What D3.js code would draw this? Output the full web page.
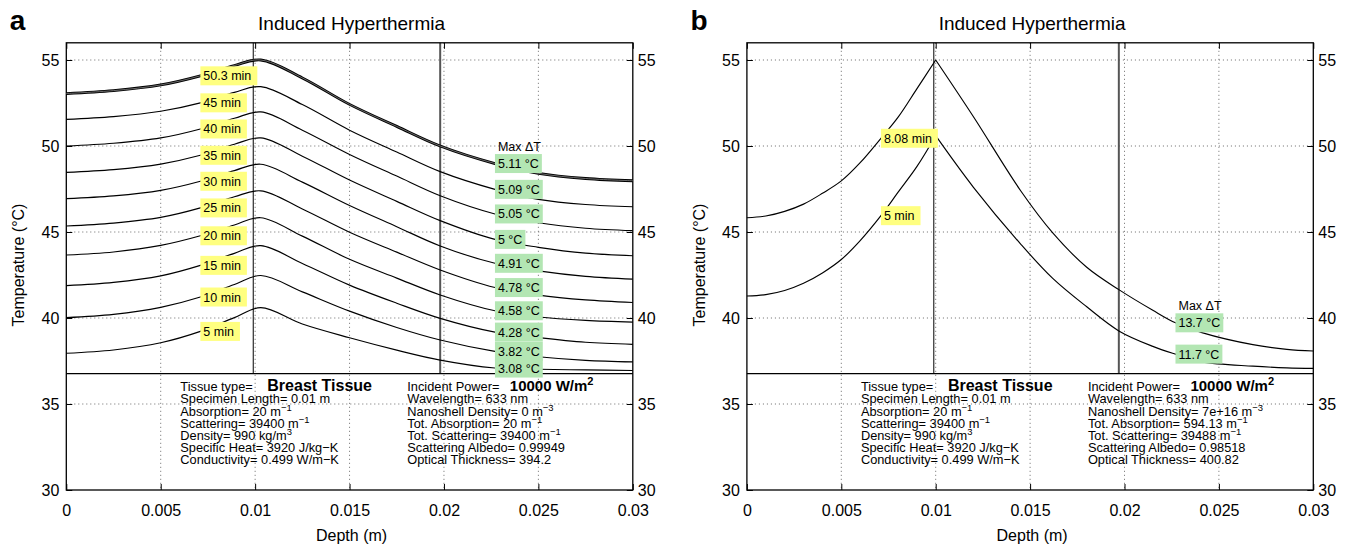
<!DOCTYPE html>
<html>
<head>
<meta charset="utf-8">
<script src="https://cdn.jsdelivr.net/npm/d3@7"></script>
<style>
  body { margin: 0; background: #fff; }
  svg text { font-family: "Liberation Sans", Arial, Helvetica, sans-serif; fill: #000; }
</style>
</head>
<body>
<svg id="fig" width="1354" height="545"></svg>
<script>
// ---- axis ticks ----
const xTicks = [0, 0.005, 0.01, 0.015, 0.02, 0.025, 0.03];
const xTickLabels = ["0", "0.005", "0.01", "0.015", "0.02", "0.025", "0.03"];
const yTicks = [30, 35, 40, 45, 50, 55];
const yTickLabels = ["30", "35", "40", "45", "50", "55"];

// ---- panel a: temperature profiles (°C) along depth (m) ----
const depthA = [0, 0.0025, 0.005, 0.0071, 0.0089, 0.0103, 0.0125, 0.015, 0.0175, 0.0198, 0.0227, 0.025, 0.0275, 0.03];
const tempA_50_3 = [53.05, 53.22, 53.55, 54.08, 54.68, 55.00, 53.96, 52.42, 51.14, 50.00, 48.98, 48.41, 48.11, 47.98];
const tempA_45   = [51.55, 51.71, 52.02, 52.51, 53.12, 53.45, 52.41, 50.92, 49.65, 48.51, 47.48, 46.90, 46.60, 46.47];
const tempA_40   = [50.00, 50.16, 50.47, 50.99, 51.61, 51.98, 50.92, 49.51, 48.25, 47.11, 46.05, 45.54, 45.22, 45.08];
const tempA_35   = [48.47, 48.63, 48.95, 49.46, 50.10, 50.47, 49.41, 48.02, 46.78, 45.66, 44.57, 44.11, 43.77, 43.62];
const tempA_30   = [46.94, 47.10, 47.42, 47.95, 48.57, 48.94, 47.90, 46.54, 45.31, 44.19, 43.18, 42.74, 42.42, 42.26];
const tempA_25   = [45.35, 45.52, 45.85, 46.40, 47.05, 47.39, 46.34, 44.99, 43.83, 42.79, 41.77, 41.33, 41.05, 40.90];
const tempA_20   = [43.66, 43.84, 44.22, 44.78, 45.41, 45.83, 44.76, 43.41, 42.32, 41.34, 40.42, 40.06, 39.86, 39.76];
const tempA_15   = [41.88, 42.07, 42.45, 43.06, 43.76, 44.21, 43.17, 41.91, 40.86, 39.98, 39.18, 38.86, 38.59, 38.47];
const tempA_10   = [40.02, 40.21, 40.62, 41.22, 41.95, 42.47, 41.52, 40.40, 39.45, 38.72, 38.06, 37.75, 37.54, 37.45];
const tempA_5    = [37.95, 38.14, 38.56, 39.22, 40.02, 40.60, 39.65, 38.85, 38.13, 37.55, 37.09, 37.02, 36.98, 36.95];
const timesA = ["50.3 min", "45 min", "40 min", "35 min", "30 min", "25 min", "20 min", "15 min", "10 min", "5 min"];
const maxDeltaA = ["5.11 °C", "5.09 °C", "5.05 °C", "5 °C", "4.91 °C", "4.78 °C", "4.58 °C", "4.28 °C", "3.82 °C", "3.08 °C"];
const boundaryA = [0.0099, 0.0198];

// ---- panel b: with nanoshells ----
const depthB = [0, 0.001, 0.002, 0.003, 0.004, 0.005, 0.006, 0.0071, 0.008, 0.009, 0.01,
                0.012, 0.0145, 0.0162, 0.018, 0.0197, 0.0215, 0.0227, 0.0241, 0.0268, 0.0286, 0.03];
const tempB_8_08 = [45.83, 45.93, 46.20, 46.62, 47.25, 47.97, 49.03, 50.45, 51.66, 53.32, 55.00,
                    51.70, 47.40, 44.95, 42.95, 41.65, 40.45, 39.72, 39.15, 38.45, 38.18, 38.08];
const tempB_5    = [41.28, 41.36, 41.60, 42.02, 42.62, 43.40, 44.50, 45.95, 47.30, 48.80, 50.60,
                    47.60, 44.30, 42.30, 40.65, 39.25, 38.35, 37.90, 37.45, 37.20, 37.10, 37.07];
const timesB = ["8.08 min", "5 min"];
const maxDeltaB = ["13.7 °C", "11.7 °C"];
const boundaryB = [0.0099, 0.0197];

// lower edge of the profile region (°C)
const regionFloor = 36.77;

// ---- parameter listings ----
const tissueName = "Breast Tissue";
const powerText = "10000 W/m^{2}";
const tissueLines = [
  "Specimen Length= 0.01 m",
  "Absorption= 20 m^{−1}",
  "Scattering= 39400 m^{−1}",
  "Density= 990 kg/m^{3}",
  "Specific Heat= 3920 J/kg−K",
  "Conductivity= 0.499 W/m−K"
];
const opticsLinesA = [
  "Wavelength= 633 nm",
  "Nanoshell Density= 0 m^{−3}",
  "Tot. Absorption= 20 m^{−1}",
  "Tot. Scattering= 39400 m^{−1}",
  "Scattering Albedo= 0.99949",
  "Optical Thickness= 394.2"
];
const opticsLinesB = [
  "Wavelength= 633 nm",
  "Nanoshell Density= 7e+16 m^{−3}",
  "Tot. Absorption= 594.13 m^{−1}",
  "Tot. Scattering= 39488 m^{−1}",
  "Scattering Albedo= 0.98518",
  "Optical Thickness= 400.82"
];

const svg = d3.select("#fig");
const yTopPx = 42.8, yBotPx = 490;

// text with ^{...} superscripts
function richText(g, x, y, str, size, weight) {
  const t = g.append("text").attr("x", x).attr("y", y)
    .attr("font-size", size).attr("font-weight", weight || "normal");
  const parts = str.split(/\^\{([^}]*)\}/);
  const shift = Math.round(size * 0.42);
  parts.forEach((p, i) => {
    if (!p) return;
    if (i % 2 === 1) {
      t.append("tspan").attr("dy", -shift).attr("font-size", size * 0.74).text(p);
      t.append("tspan").attr("dy", shift).text("");
    } else {
      t.append("tspan").text(p);
    }
  });
  return t;
}

function drawPanel(cfg) {
  const x = d3.scaleLinear().domain([0, 0.03]).range([cfg.left, cfg.right]);
  const y = d3.scaleLinear().domain([30, 56]).range([yBotPx, yTopPx]);
  const g = svg.append("g");

  // dotted grid
  const grid = g.append("g").attr("stroke", "#6a6a6a").attr("stroke-width", 1).attr("stroke-dasharray", "1,3");
  grid.selectAll("line.gx").data(xTicks.slice(1, -1)).join("line")
    .attr("x1", d => x(d)).attr("x2", d => x(d)).attr("y1", yTopPx).attr("y2", yBotPx);
  grid.selectAll("line.gy").data(yTicks.slice(1)).join("line")
    .attr("x1", cfg.left).attr("x2", cfg.right).attr("y1", d => y(d)).attr("y2", d => y(d));

  // boundaries of the specimen
  g.selectAll("line.bd").data(cfg.boundaries).join("line")
    .attr("x1", d => x(d)).attr("x2", d => x(d))
    .attr("y1", yTopPx).attr("y2", y(regionFloor))
    .attr("stroke", (d, i) => i === 0 ? "#000" : "#555")
    .attr("stroke-width", (d, i) => i === 0 ? 1 : 2);

  // floor of profile region
  g.append("line").attr("x1", cfg.left).attr("x2", cfg.right)
    .attr("y1", y(regionFloor)).attr("y2", y(regionFloor))
    .attr("stroke", "#000").attr("stroke-width", 1.2);

  // axes
  const fmtX = (d, i) => xTickLabels[i];
  const fmtY = (d, i) => yTickLabels[i];
  const ax = [
    g.append("g").attr("transform", `translate(0,${yBotPx})`)
      .call(d3.axisBottom(x).tickValues(xTicks).tickFormat(fmtX).tickSizeInner(-6).tickSizeOuter(0).tickPadding(15)),
    g.append("g").attr("transform", `translate(0,${yTopPx})`)
      .call(d3.axisTop(x).tickValues(xTicks).tickFormat("").tickSizeInner(-6).tickSizeOuter(0)),
    g.append("g").attr("transform", `translate(${cfg.left},0)`)
      .call(d3.axisLeft(y).tickValues(yTicks).tickFormat(fmtY).tickSizeInner(-6).tickSizeOuter(0).tickPadding(7)),
    g.append("g").attr("transform", `translate(${cfg.right},0)`)
      .call(d3.axisRight(y).tickValues(yTicks).tickFormat(fmtY).tickSizeInner(-6).tickSizeOuter(0).tickPadding(5))
  ];
  ax.forEach(a => {
    a.select(".domain").remove();
    a.selectAll("text").attr("font-size", 16).attr("font-family", null);
    a.selectAll("line").attr("stroke", "#000");
  });

  // frame
  g.append("rect").attr("x", cfg.left).attr("y", yTopPx)
    .attr("width", cfg.right - cfg.left).attr("height", yBotPx - yTopPx)
    .attr("fill", "none").attr("stroke", "#000").attr("stroke-width", 1.3);

  // curves
  const line = d3.line().x(d => x(d[0])).y(d => y(d[1])).curve(d3.curveCatmullRom.alpha(0.5));
  cfg.curves.forEach((temps, ci) => {
    const pts = cfg.depth.map((d, i) => [d, temps[i]]);
    const segs = cfg.cusp ? [pts.slice(0, cfg.peakIdx + 1), pts.slice(cfg.peakIdx)] : [pts];
    segs.forEach(s => {
      if (cfg.doubleTop && ci === 0) {
        g.append("path").attr("d", line(s)).attr("fill", "none").attr("stroke", "#000").attr("stroke-width", 2.8);
        g.append("path").attr("d", line(s)).attr("fill", "none").attr("stroke", "#9a9a9a").attr("stroke-width", 0.7);
      } else {
        g.append("path").attr("d", line(s)).attr("fill", "none").attr("stroke", "#000").attr("stroke-width", 1.15);
      }
    });
  });

  // labelled boxes sitting on the curves
  const boxH = 19;
  function tag(depth, temp, str, fill, padL, padR) {
    const bx = x(depth), cy = y(temp);
    const lg = g.append("g");
    const r = lg.append("rect").attr("fill", fill);
    const t = lg.append("text").attr("x", bx + padL).attr("y", cy + 4.5).attr("font-size", 12.5).text(str);
    const w = t.node().getComputedTextLength();
    r.attr("x", bx).attr("y", cy - boxH / 2).attr("width", w + padL + padR).attr("height", boxH);
    return cy - boxH / 2;
  }
  cfg.curves.forEach((temps, ci) => {
    tag(cfg.depth[cfg.yellowIdx], temps[cfg.yellowIdx], cfg.times[ci], "#ffff80", 3, 6);
  });
  let topBox = Infinity;
  cfg.curves.forEach((temps, ci) => {
    const ty = tag(cfg.depth[cfg.greenIdx], temps[cfg.greenIdx], cfg.deltas[ci], "#b3e6b3", 3, 3);
    topBox = Math.min(topBox, ty);
  });
  g.append("text").attr("x", x(cfg.depth[cfg.greenIdx]) + 3).attr("y", topBox - 3)
    .attr("font-size", 12.5).text("Max ΔT");

  // title, panel letter, axis titles
  g.append("text").attr("x", (cfg.left + cfg.right) / 2 + 2).attr("y", 29.5)
    .attr("text-anchor", "middle").attr("font-size", 19).text("Induced Hyperthermia");
  g.append("text").attr("x", cfg.left - 56.5).attr("y", 30)
    .attr("font-size", 28).attr("font-weight", "bold").text(cfg.letter);
  g.append("text").attr("x", (cfg.left + cfg.right) / 2 + 2).attr("y", 541)
    .attr("text-anchor", "middle").attr("font-size", 16).text("Depth (m)");
  g.append("text").attr("transform", `translate(${cfg.left - 42.3},265) rotate(-90)`)
    .attr("text-anchor", "middle").attr("font-size", 16).text("Temperature (°C)");

  // parameter listing
  const info = g.append("g");
  const lx = cfg.left + 114, rx = cfg.left + 341;
  richText(info, lx, 390.5, "Tissue type=", 12.8);
  richText(info, cfg.left + 201, 390.5, tissueName, 16, "bold");
  richText(info, rx, 390.5, "Incident Power=", 12.8);
  richText(info, cfg.left + 443.5, 390.5, powerText, 15, "bold");
  tissueLines.forEach((s, i) => richText(info, lx, 403.3 + 12.2 * i, s, 12.8));
  cfg.optics.forEach((s, i) => richText(info, rx, 403.3 + 12.2 * i, s, 12.8));
}

drawPanel({
  left: 66.3, right: 632.8, letter: "a",
  depth: depthA,
  curves: [tempA_50_3, tempA_45, tempA_40, tempA_35, tempA_30, tempA_25, tempA_20, tempA_15, tempA_10, tempA_5],
  times: timesA, deltas: maxDeltaA,
  yellowIdx: 3, greenIdx: 10, cusp: false, doubleTop: true,
  boundaries: boundaryA, optics: opticsLinesA
});
drawPanel({
  left: 746.9, right: 1313.3, letter: "b",
  depth: depthB,
  curves: [tempB_8_08, tempB_5],
  times: timesB, deltas: maxDeltaB,
  yellowIdx: 7, greenIdx: 17, cusp: true, peakIdx: 10, doubleTop: false,
  boundaries: boundaryB, optics: opticsLinesB
});
</script>
</body>
</html>
